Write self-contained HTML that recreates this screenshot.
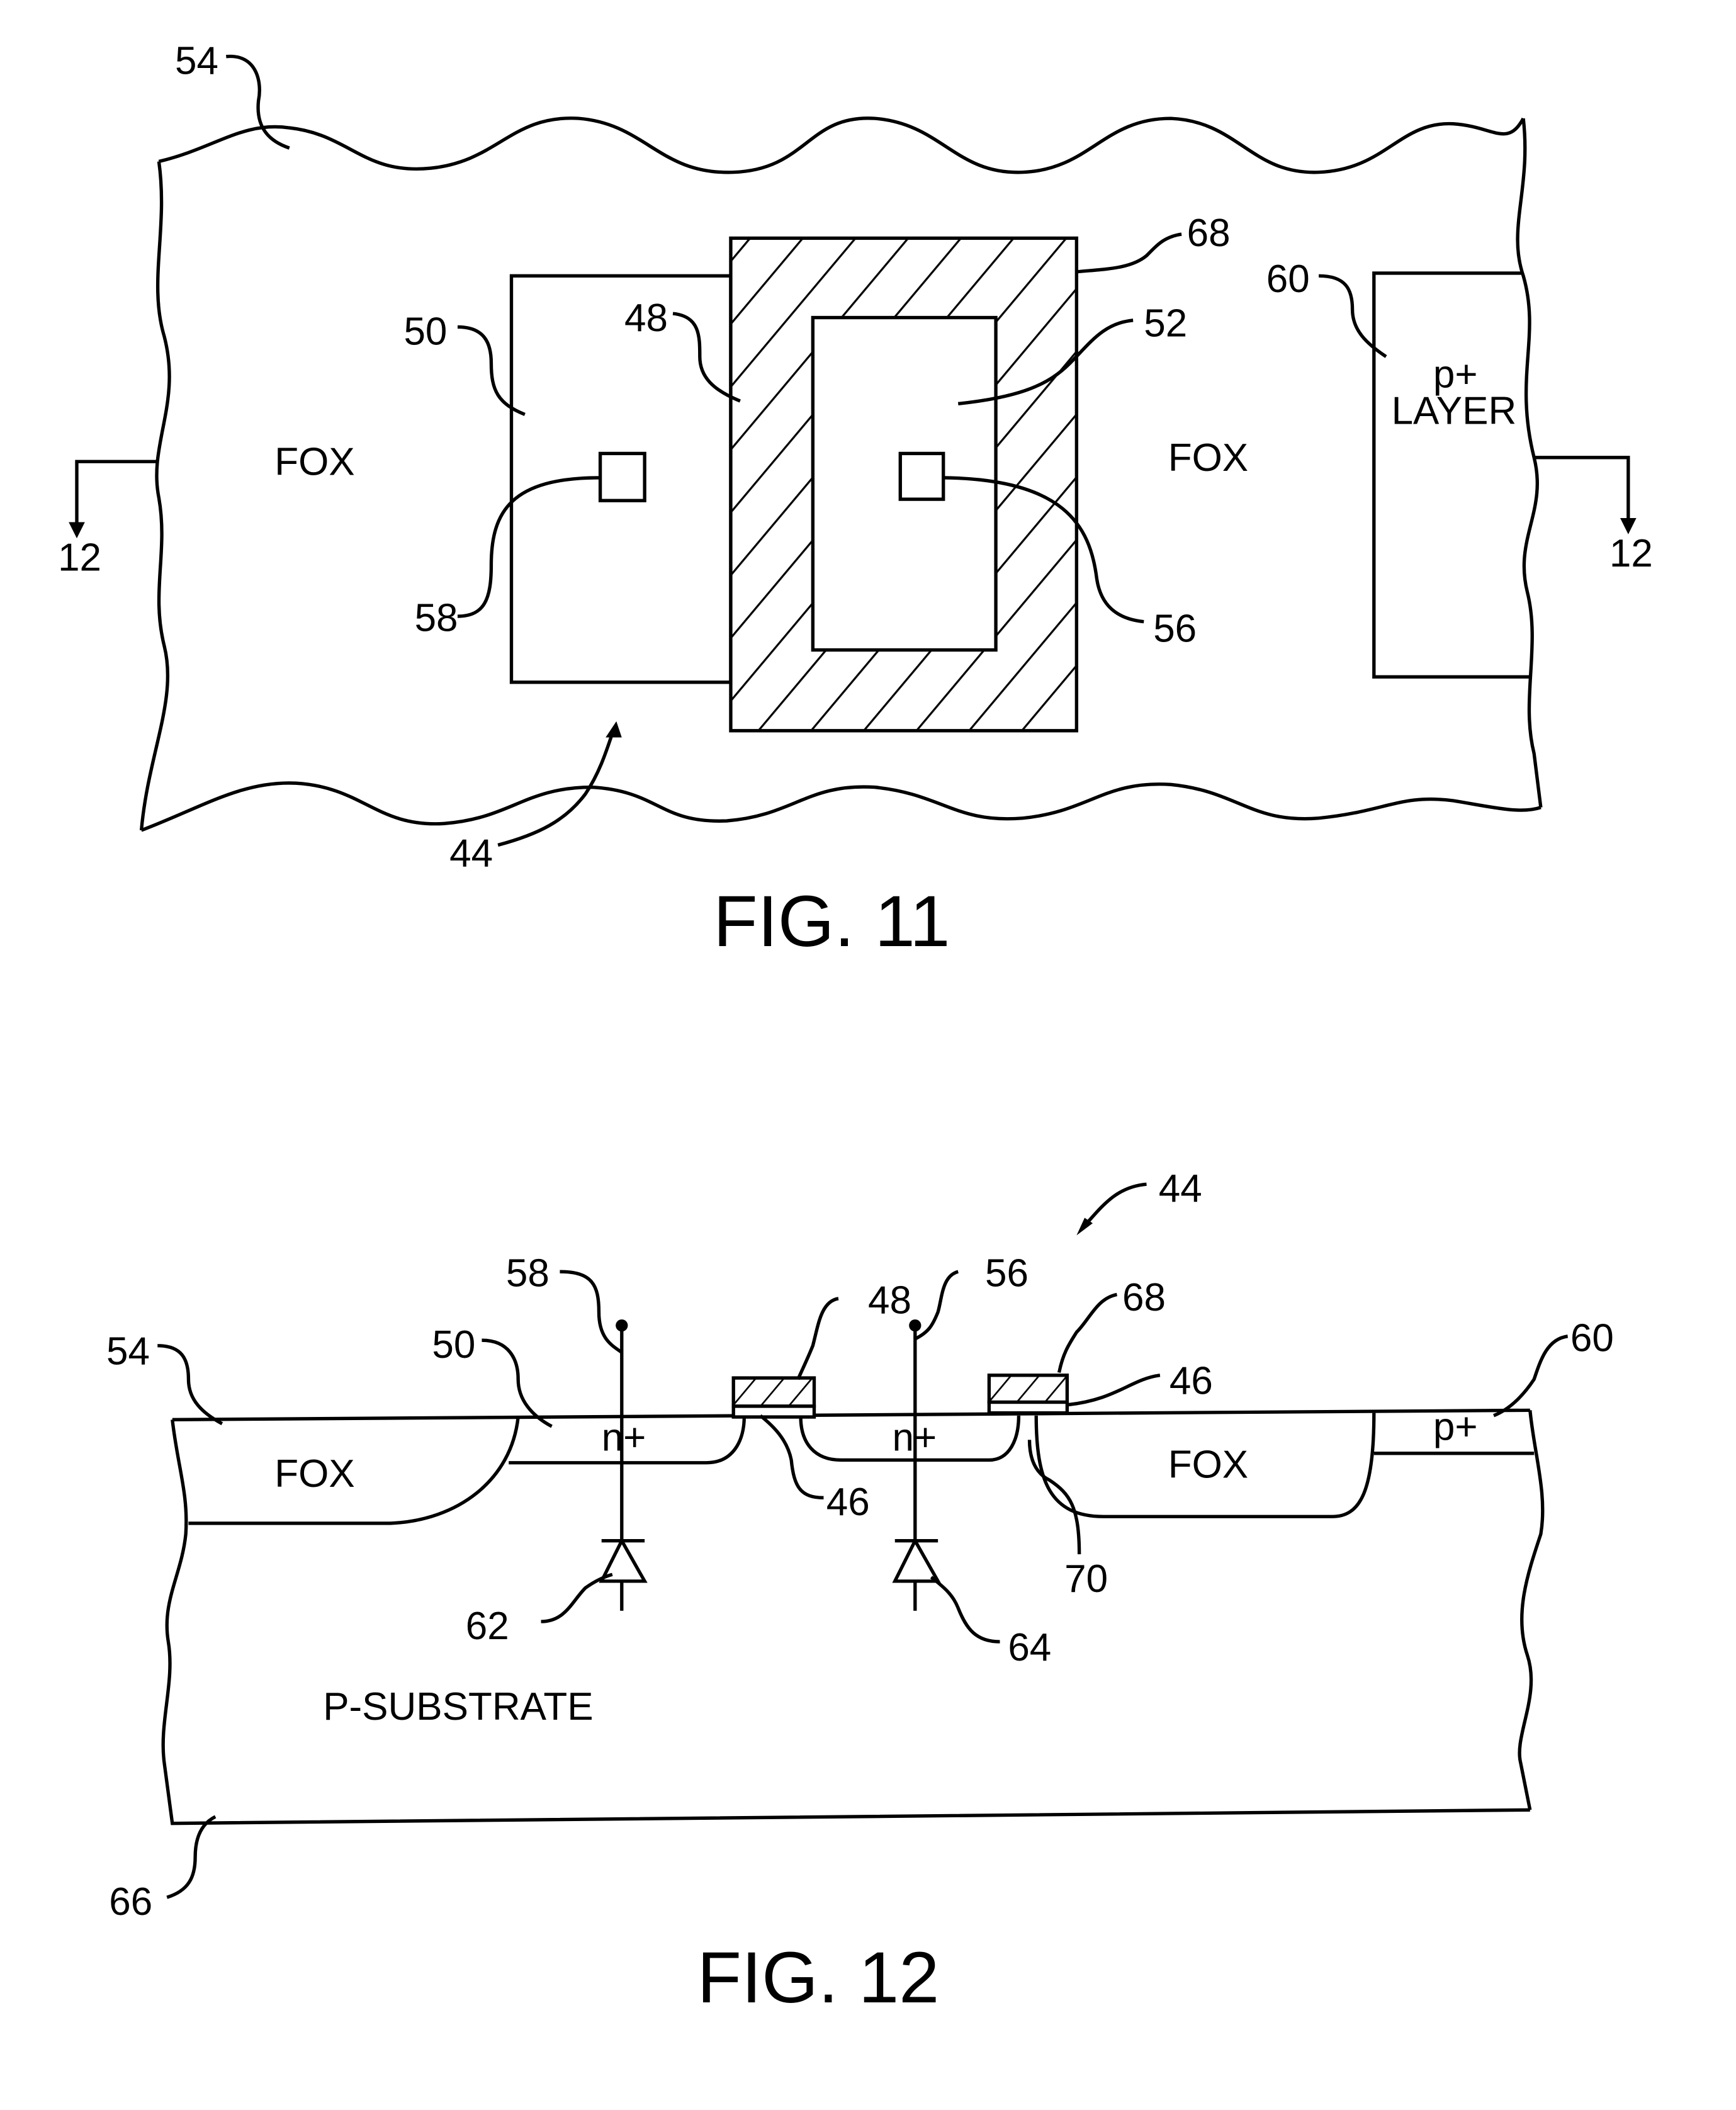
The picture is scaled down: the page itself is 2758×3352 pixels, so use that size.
<!DOCTYPE html>
<html><head><meta charset="utf-8"><style>html,body{margin:0;padding:0;background:#fff}svg{display:block}text{font-family:"Liberation Sans",sans-serif;fill:#000}</style></head><body>
<svg width="2758" height="3352" viewBox="0 0 1290 1568" xmlns="http://www.w3.org/2000/svg">
<defs><pattern id="h" patternUnits="userSpaceOnUse" width="30" height="30" patternTransform="rotate(40)"><rect width="30" height="30" fill="#fff"/><line x1="0" y1="0" x2="0" y2="30" stroke="#000" stroke-width="3"/></pattern>
<pattern id="h2" patternUnits="userSpaceOnUse" width="16" height="16" patternTransform="rotate(40)"><rect width="16" height="16" fill="#fff"/><line x1="0" y1="0" x2="0" y2="16" stroke="#000" stroke-width="2.5"/></pattern></defs>
<g fill="none" stroke="#000" stroke-width="2.5">
<path d="M118,120 C160,110 180,90 215,95 C260,100 270,130 320,125 C370,120 380,85 430,88 C480,92 490,130 545,128 C600,126 600,85 650,88 C700,92 710,130 760,128 C810,126 820,88 870,88 C920,90 930,130 980,128 C1030,126 1040,90 1080,92 C1110,94 1120,110 1132,88"/>
<path d="M1132,88 C1138,140 1120,170 1132,205 C1145,250 1125,280 1140,340 C1150,380 1125,400 1135,440 C1145,480 1130,520 1140,560 L1145,600"/>
<path d="M105,617 C150,600 180,580 220,582 C270,585 280,615 330,612 C380,608 390,585 440,585 C490,588 490,612 540,610 C590,606 600,582 650,585 C700,590 710,612 760,608 C810,603 820,580 870,583 C920,588 930,612 980,608 C1030,603 1040,590 1080,595 C1110,600 1130,605 1145,600"/>
<path d="M118,120 C125,170 110,210 122,250 C135,300 110,330 118,370 C125,410 112,440 122,480 C132,520 110,560 105,617"/>
<rect x="380" y="205" width="163" height="302"/>
<rect x="543" y="177" width="257" height="366" fill="url(#h)"/>
<rect x="604" y="236" width="136" height="247" fill="#fff"/>
<rect x="446" y="337" width="33" height="35"/>
<rect x="669" y="337" width="32" height="34"/>
<path d="M1132,203 L1021,203 L1021,503 L1137,503"/>
<path d="M118,343 L57,343 L57,390"/><path d="M1140,340 L1210,340 L1210,387"/>
<path d="M168,42 C190,40 195,60 192,75 C190,95 200,105 215,110"/>
<path d="M878,174 C865,176 860,182 852,190 C840,200 820,200 800,202"/>
<path d="M980,205 C1000,205 1005,215 1005,230 C1005,245 1015,255 1030,265"/>
<path d="M340,243 C360,243 365,255 365,270 C365,290 370,300 390,308"/>
<path d="M500,233 C520,235 520,250 520,265 C520,280 530,290 550,298"/>
<path d="M842,238 C820,240 810,255 795,270 C780,285 760,295 712,300"/>
<path d="M340,458 C360,458 365,445 365,420 C365,380 380,355 446,355"/>
<path d="M850,462 C830,460 818,450 815,430 C810,390 790,356 701,355"/>
<path d="M370,628 C400,620 420,610 435,590 C445,575 450,560 455,545"/>
</g>
<polygon points="51,388 63,388 57,400" fill="#000"/><polygon points="1204,385 1216,385 1210,397" fill="#000"/>
<polygon points="450,548 462,548 458,536" fill="#000"/>
<g font-size="29">
<text x="130" y="55">54</text><text x="882" y="183">68</text><text x="941" y="217">60</text>
<text x="300" y="256">50</text><text x="464" y="246">48</text><text x="850" y="250">52</text>
<text x="43" y="424">12</text><text x="1196" y="421">12</text><text x="308" y="469">58</text>
<text x="857" y="477">56</text><text x="334" y="644">44</text>
<text x="204" y="353">FOX</text><text x="868" y="350">FOX</text>
<text x="1065" y="288">p+</text><text x="1034" y="315">LAYER</text>
<text x="204" y="1105">FOX</text><text x="868" y="1098">FOX</text>
<text x="447" y="1078">n+</text><text x="663" y="1078">n+</text><text x="1065" y="1070">p+</text>
<text x="240" y="1278">P-SUBSTRATE</text>
<text x="861" y="893">44</text><text x="376" y="956">58</text><text x="732" y="956">56</text>
<text x="645" y="976">48</text><text x="834" y="974">68</text><text x="1167" y="1004">60</text>
<text x="79" y="1014">54</text><text x="321" y="1009">50</text><text x="869" y="1036">46</text>
<text x="614" y="1126">46</text><text x="791" y="1183">70</text><text x="346" y="1218">62</text>
<text x="749" y="1234">64</text><text x="81" y="1423">66</text>
</g>
<text x="530" y="703" font-size="54">FIG. 11</text>
<text x="518" y="1488" font-size="54">FIG. 12</text>
<g fill="none" stroke="#000" stroke-width="2.5">
<path d="M128,1055 L1137,1048"/>
<path d="M128,1055 C132,1090 140,1110 138,1140 C135,1170 120,1190 125,1220 C130,1250 118,1280 122,1310 L128,1355 L1137,1345"/>
<path d="M1137,1048 C1140,1080 1150,1110 1145,1140 C1135,1170 1125,1200 1135,1230 C1145,1260 1125,1290 1130,1310 L1137,1345"/>
<path d="M140,1132 L290,1132 C340,1130 380,1100 385,1053"/>
<path d="M378,1087 L525,1087 C545,1087 553,1070 553,1053"/>
<path d="M595,1053 C595,1072 605,1085 625,1085 L735,1085 C750,1085 757,1070 757,1052"/>
<path d="M770,1052 C770,1100 780,1127 820,1127 L990,1127 C1010,1127 1021,1110 1021,1050"/>
<path d="M1021,1080 L1140,1080"/>
<rect x="545" y="1024" width="60" height="21" fill="url(#h2)"/><rect x="545" y="1045" width="60" height="8" fill="#fff"/>
<rect x="735" y="1022" width="58" height="20" fill="url(#h2)"/><rect x="735" y="1042" width="58" height="8" fill="#fff"/>
<path d="M462,985 L462,1145"/><path d="M447,1145 L479,1145"/><path d="M462,1145 L447,1175 L479,1175 Z"/><path d="M462,1175 L462,1197"/>
<path d="M680,985 L680,1145"/><path d="M665,1145 L697,1145"/><path d="M680,1145 L665,1175 L697,1175 Z"/><path d="M680,1175 L680,1197"/>
<path d="M852,880 C830,882 820,895 805,912"/>
<path d="M416,945 C440,945 445,955 445,975 C445,995 455,1000 462,1005"/>
<path d="M712,945 C700,948 700,965 697,975 C693,985 690,990 680,995"/>
<path d="M623,965 C610,967 608,985 604,1000 C600,1010 596,1018 593,1025"/>
<path d="M830,962 C815,965 810,980 800,990 C795,998 790,1005 787,1020"/>
<path d="M1165,993 C1150,995 1145,1010 1140,1025 C1130,1040 1120,1048 1110,1052"/>
<path d="M117,1000 C135,1000 140,1010 140,1025 C140,1040 150,1050 165,1058"/>
<path d="M358,996 C378,996 385,1010 385,1025 C385,1040 395,1052 410,1060"/>
<path d="M862,1022 C840,1025 830,1040 793,1044"/>
<path d="M612,1113 C595,1113 590,1105 588,1085 C585,1070 575,1060 565,1052"/>
<path d="M802,1155 C802,1120 795,1110 780,1100 C770,1095 765,1085 765,1070"/>
<path d="M402,1205 C420,1205 425,1190 435,1180 C442,1175 448,1172 455,1170"/>
<path d="M743,1220 C725,1220 718,1210 712,1195 C708,1185 702,1180 692,1172"/>
<path d="M124,1410 C140,1405 145,1395 145,1380 C145,1365 150,1355 160,1350"/>
</g>
<circle cx="462" cy="985" r="4.5" fill="#000"/><circle cx="680" cy="985" r="4.5" fill="#000"/>
<polygon points="800,918 812,909 806,905" fill="#000"/>
</svg>
</body></html>
